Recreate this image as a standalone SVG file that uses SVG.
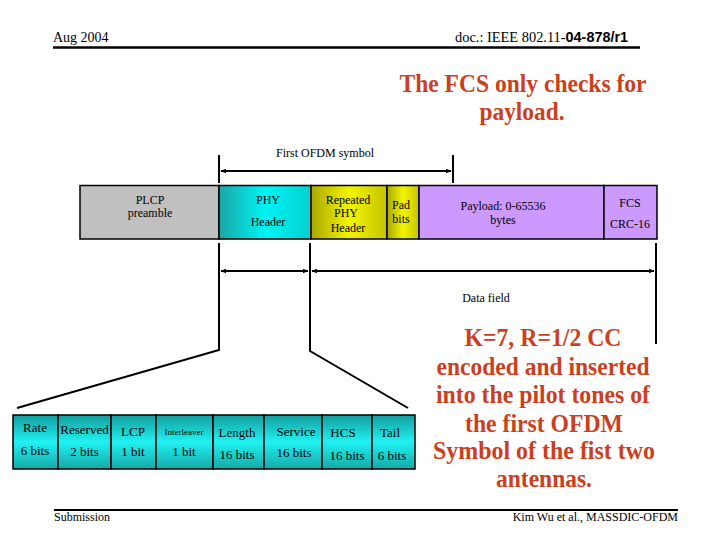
<svg xmlns="http://www.w3.org/2000/svg" width="720" height="540" viewBox="0 0 720 540">
<defs>
<linearGradient id="cyanH" x1="0" y1="0" x2="1" y2="0">
<stop offset="0" stop-color="#1aa6a6"/><stop offset="0.5" stop-color="#00f4f4"/><stop offset="1" stop-color="#06d0d0"/>
</linearGradient>
<linearGradient id="yelH" x1="0" y1="0" x2="1" y2="0">
<stop offset="0" stop-color="#a8a800"/><stop offset="0.5" stop-color="#f4f400"/><stop offset="1" stop-color="#c4c400"/>
</linearGradient>
<linearGradient id="cyanV" x1="0" y1="0" x2="0" y2="1">
<stop offset="0" stop-color="#139c9c"/><stop offset="0.5" stop-color="#20f2f2"/><stop offset="1" stop-color="#16a8a8"/>
</linearGradient>
<marker id="ah" viewBox="0 0 10 10" refX="9" refY="5" markerWidth="6" markerHeight="6" orient="auto-start-reverse" markerUnits="userSpaceOnUse">
<path d="M0,1 L10,5 L0,9 z" fill="#000"/>
</marker>
<style>
.t{font-family:"Liberation Serif","Times New Roman",serif;font-size:13px;fill:#000;text-anchor:middle}
.s{font-size:12px}
.box{stroke:#000;stroke-width:1.5}
.ln{stroke:#000;stroke-width:2;fill:none}
.red{font-family:"Liberation Serif","Times New Roman",serif;font-weight:bold;font-size:25px;fill:#cc3f1e;text-anchor:middle}
</style>
</defs>
<rect width="720" height="540" fill="#fff"/>

<g id="header">
<text x="53" y="42" style="font-family:'Liberation Serif',serif;font-size:14px">Aug 2004</text>
<text x="455" y="42" style="font-family:'Liberation Serif',serif;font-size:14px" textLength="173" lengthAdjust="spacingAndGlyphs">doc.: IEEE 802.11-<tspan style="font-family:'Liberation Sans',sans-serif;font-weight:bold;font-size:14px">04-878/r1</tspan></text>
<line x1="53" y1="47.5" x2="640" y2="47.5" stroke="#000" stroke-width="2.5"/>
</g>

<g id="note-fcs">
<text class="red" x="523" y="92" textLength="247" lengthAdjust="spacingAndGlyphs">The FCS only checks for</text>
<text class="red" x="522" y="120" textLength="85" lengthAdjust="spacingAndGlyphs">payload.</text>
</g>

<g id="plcp-preamble">
<rect class="box" x="80" y="185.5" width="139" height="53.5" fill="#c0c0c0"/>
<text class="t s" x="150" y="204">PLCP</text>
<text class="t s" x="150" y="217">preamble</text>
</g>
<g id="phy-header">
<rect class="box" x="219" y="185.5" width="92" height="53.5" fill="url(#cyanH)"/>
<text class="t s" x="268" y="204">PHY</text>
<text class="t s" x="268" y="226">Header</text>
</g>
<g id="repeated-phy-header">
<rect class="box" x="311" y="185.5" width="76" height="53.5" fill="url(#yelH)"/>
<text class="t s" x="348" y="204">Repeated</text>
<text class="t s" x="346" y="217">PHY</text>
<text class="t s" x="348" y="232">Header</text>
</g>
<g id="pad-bits">
<rect class="box" x="387" y="185.5" width="32" height="53.5" fill="url(#yelH)"/>
<text class="t s" x="401" y="209">Pad</text>
<text class="t s" x="401" y="223">bits</text>
</g>
<g id="payload">
<rect class="box" x="419" y="185.5" width="185" height="53.5" fill="#cc99ff"/>
<text class="t s" x="503" y="210">Payload: 0-65536</text>
<text class="t s" x="503" y="224">bytes</text>
</g>
<g id="fcs">
<rect class="box" x="604" y="185.5" width="53" height="53.5" fill="#cc99ff"/>
<text class="t s" x="630" y="207">FCS</text>
<text class="t s" x="630" y="228">CRC-16</text>
</g>

<g id="connectors">
<line class="ln" x1="219" y1="155" x2="219" y2="183"/>
<line class="ln" x1="453" y1="155" x2="453" y2="183"/>
<line class="ln" x1="221" y1="171" x2="451" y2="171" marker-start="url(#ah)" marker-end="url(#ah)"/>
<polyline class="ln" points="219,243 219,350 17,408"/>
<polyline class="ln" points="310,243 310,351 408,408"/>
<line class="ln" x1="656" y1="243" x2="656" y2="344"/>
<line class="ln" x1="221" y1="271" x2="308" y2="271" marker-start="url(#ah)" marker-end="url(#ah)"/>
<line class="ln" x1="312" y1="271" x2="654" y2="271" marker-start="url(#ah)" marker-end="url(#ah)"/>
</g>

<g id="labels">
<text class="t s" x="325" y="157">First OFDM symbol</text>
<text class="t s" x="486" y="302">Data field</text>
</g>

<g id="field-rate">
<rect class="box" x="13" y="415" width="45" height="54" fill="url(#cyanV)"/>
<text class="t" x="35" y="432">Rate</text><text class="t" x="35" y="455">6 bits</text>
</g>
<g id="field-reserved">
<rect class="box" x="58" y="415" width="53" height="54" fill="url(#cyanV)"/>
<text class="t" x="84.5" y="434">Reserved</text><text class="t" x="84.5" y="456">2 bits</text>
</g>
<g id="field-lcp">
<rect class="box" x="111" y="415" width="45" height="54" fill="url(#cyanV)"/>
<text class="t" x="133" y="436">LCP</text><text class="t" x="133" y="456">1 bit</text>
</g>
<g id="field-interleaver">
<rect class="box" x="156" y="415" width="57" height="54" fill="url(#cyanV)"/>
<text class="t" x="184" y="435" style="font-size:9px">Interleaver</text><text class="t" x="184" y="456">1 bit</text>
</g>
<g id="field-length">
<rect class="box" x="213" y="415" width="51" height="54" fill="url(#cyanV)"/>
<text class="t" x="237" y="437">Length</text><text class="t" x="237" y="459">16 bits</text>
</g>
<g id="field-service">
<rect class="box" x="264" y="415" width="58" height="54" fill="url(#cyanV)"/>
<text class="t" x="296" y="436">Service</text><text class="t" x="294" y="457">16 bits</text>
</g>
<g id="field-hcs">
<rect class="box" x="322" y="415" width="50" height="54" fill="url(#cyanV)"/>
<text class="t" x="343" y="437">HCS</text><text class="t" x="347" y="460">16 bits</text>
</g>
<g id="field-tail">
<rect class="box" x="372" y="415" width="43" height="54" fill="url(#cyanV)"/>
<text class="t" x="390" y="437">Tail</text><text class="t" x="392" y="460">6 bits</text>
</g>

<g id="note-cc">
<text class="red" x="543" y="346" textLength="157" lengthAdjust="spacingAndGlyphs">K=7, R=1/2 CC</text>
<text class="red" x="543" y="375" textLength="213" lengthAdjust="spacingAndGlyphs">encoded and inserted</text>
<text class="red" x="543" y="403" textLength="214" lengthAdjust="spacingAndGlyphs">into the pilot tones of</text>
<text class="red" x="544" y="432" textLength="158" lengthAdjust="spacingAndGlyphs">the first OFDM</text>
<text class="red" x="544" y="459" textLength="222" lengthAdjust="spacingAndGlyphs">Symbol of the fist two</text>
<text class="red" x="544" y="487" textLength="96" lengthAdjust="spacingAndGlyphs">antennas.</text>
</g>

<g id="footer">
<line x1="54" y1="510" x2="678" y2="510" stroke="#000" stroke-width="2"/>
<text x="54" y="521" style="font-family:'Liberation Serif',serif;font-size:12px">Submission</text>
<text x="678" y="521" style="font-family:'Liberation Serif',serif;font-size:12px;text-anchor:end">Kim Wu et al., MASSDIC-OFDM</text>
</g>
</svg>
